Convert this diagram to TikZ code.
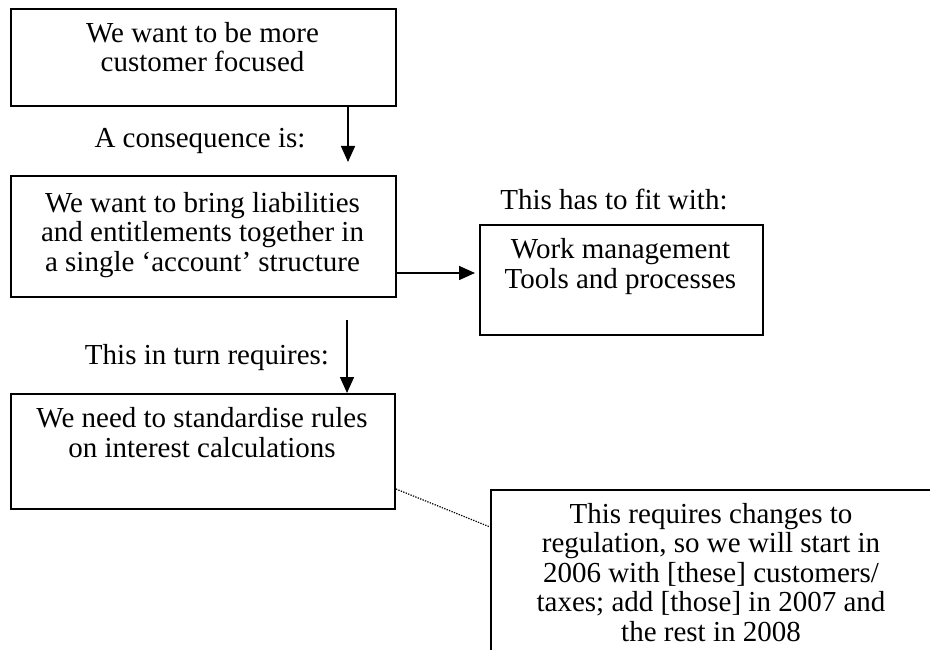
\documentclass[tikz,border=0pt]{standalone}
\usepackage{fontspec}
\setmainfont{Liberation Serif}
\usetikzlibrary{arrows.meta}
\begin{document}
\begin{tikzpicture}[x=1pt,y=-1pt,
  box/.style={draw, line width=2pt, rectangle, inner sep=0pt, anchor=north west},
  txt/.style={inner sep=0pt, anchor=base, align=center, font=\fontsize{29}{29.5}\selectfont},
  conn/.style={line width=1.5pt, -{Triangle[length=16pt,width=14pt]}},
  dotconn/.style={line width=1.2pt, dash pattern=on 1.3pt off 1.3pt}]
\useasboundingbox (0,0) rectangle (930,650);
\clip (0,0) rectangle (930,650);
% boxes
\node[box, minimum width=385pt, minimum height=97pt] (b1) at (10,8) {};
\node[box, minimum width=385pt, minimum height=121pt] (b2) at (10,175) {};
\node[box, minimum width=283pt, minimum height=110pt] (b3) at (479,224) {};
\node[box, minimum width=384pt, minimum height=115pt] (b4) at (10,393) {};
\node[box, minimum width=445pt, minimum height=200pt] (b5) at (490,489) {};
% box texts (anchored at the baseline of the last line)
\node[txt] (t1) at (202.5,72) {We want to be more\\customer focused};
\node[txt] (t2) at (202.5,271.5) {We want to bring liabilities\\and entitlements together in\\a single ‘account’ structure};
\node[txt] (t3) at (620.5,288) {Work management\\Tools and processes};
\node[txt] (t4) at (202,457) {We need to standardise rules\\on interest calculations};
\node[txt] (t5) at (711,641) {This requires changes to\\regulation, so we will start in\\2006 with [these] customers/\\taxes; add [those] in 2007 and\\the rest in 2008};
% labels
\node[txt] (l1) at (200,148) {A consequence is:};
\node[txt] (l2) at (614,210) {This has to fit with:};
\node[txt] (l3) at (207,364) {This in turn requires:};
% connectors
\coordinate (a1e) at (348,162);
\coordinate (a2e) at (475,273);
\coordinate (a3s) at (347,320);
\coordinate (d1) at (395,489);
\coordinate (d2) at (489,527);
\draw[conn] (b1.south -| a1e) -- (a1e);
\draw[conn] (b2.east |- a2e) -- (a2e);
\draw[conn] (a3s) -- (b4.north -| a3s);
\draw[dotconn] (b4.east |- d1) -- (b5.west |- d2);
\end{tikzpicture}
\end{document}
